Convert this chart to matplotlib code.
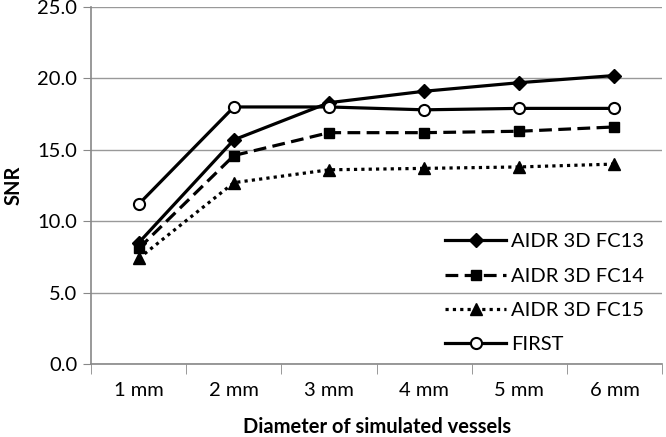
import matplotlib
matplotlib.use('Agg')
import matplotlib.pyplot as plt
import numpy as np

plt.rcParams['font.family'] = ['Lato', 'DejaVu Sans']

categories = ['1 mm', '2 mm', '3 mm', '4 mm', '5 mm', '6 mm']
fc13 = [8.5, 15.7, 18.3, 19.1, 19.7, 20.2]
fc14 = [8.1, 14.6, 16.2, 16.2, 16.3, 16.6]
fc15 = [7.4, 12.7, 13.6, 13.7, 13.8, 14.0]
first = [11.2, 18.0, 18.0, 17.8, 17.9, 17.9]

fig = plt.figure(figsize=(6.66, 4.37), dpi=100)
ax = fig.add_axes([0.137, 0.167, 0.857, 0.817])

x = np.arange(len(categories))
ax.plot(x, fc13, color='black', lw=2.3, ls='-', marker='D', ms=7, label='AIDR 3D FC13')
ax.plot(x, fc14, color='black', lw=2.3, ls=(0, (4, 2)), marker='s', ms=7, label='AIDR 3D FC14')
ax.plot(x, fc15, color='black', lw=2.3, ls=(0, (1, 1.3)), marker='^', ms=8, label='AIDR 3D FC15')
ax.plot(x, first, color='black', lw=2.3, ls='-', marker='o', ms=8, mfc='white', mew=1.5, label='FIRST')

fs = 14.5
ax.set_xlim(-0.5, 5.5)
ax.set_ylim(0, 25)
ax.set_yticks(np.arange(0, 26, 5))
ax.set_yticklabels(['%.1f' % v for v in np.arange(0, 26, 5)], fontsize=fs)
ax.set_xticks(x)
ax.set_xticklabels(categories, fontsize=fs)
ax.set_xticks(np.arange(-0.5, 6, 1), minor=True)
ax.tick_params(axis='x', which='major', length=0, pad=13)
ax.tick_params(axis='x', which='minor', length=7, color='#888888')
ax.tick_params(axis='y', length=6, color='#888888', pad=4)
ax.grid(axis='y', color='#999999', lw=1)
ax.set_axisbelow(True)
for s in ['top', 'right']:
    ax.spines[s].set_visible(False)
ax.spines['left'].set_color('#888888')
ax.spines['bottom'].set_color('#888888')
ax.spines['left'].set_linewidth(1.2)
ax.spines['bottom'].set_linewidth(1.2)

ax.set_ylabel('SNR', fontsize=fs, fontweight='bold', labelpad=10)
ax.set_xlabel('Diameter of simulated vessels', fontsize=fs, fontweight='bold', labelpad=13)

leg = ax.legend(loc='lower right', fontsize=fs, frameon=False, handlelength=3.0,
                labelspacing=0.85, handletextpad=0.25, bbox_to_anchor=(1.0, -0.02))

fig.savefig('out.png', dpi=100)
